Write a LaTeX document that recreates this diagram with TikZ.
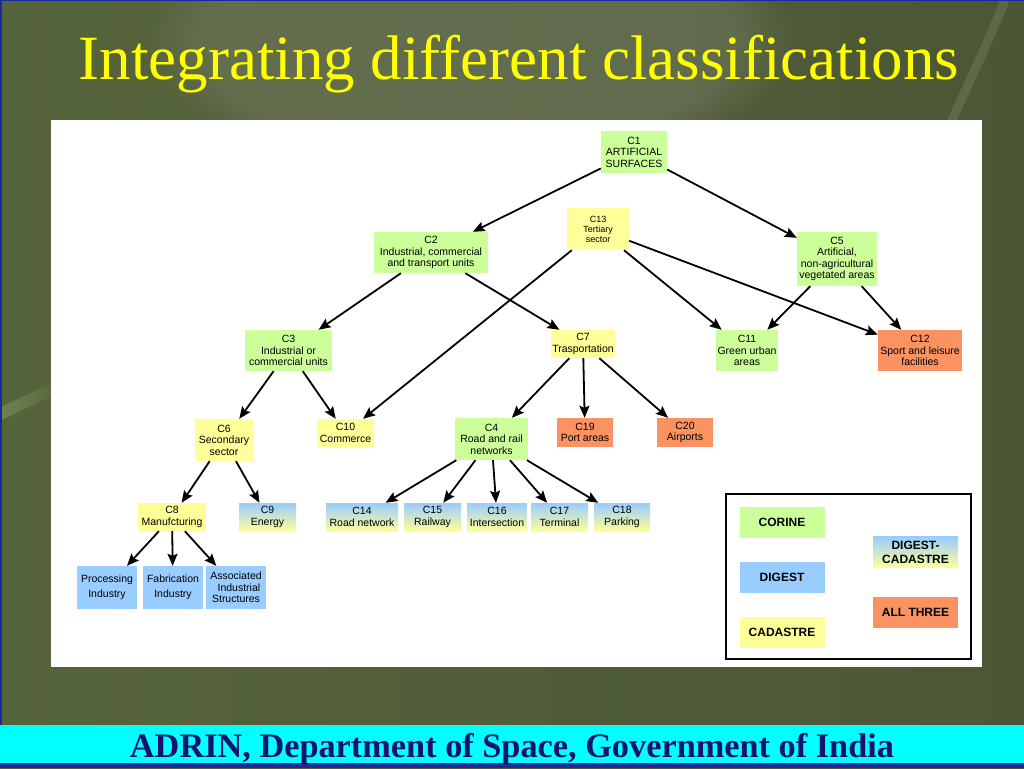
\documentclass[tikz,border=0pt]{standalone}
\usepackage{fontspec}
\setmainfont{Liberation Serif}
\newfontfamily\arialf{Liberation Sans}
\usetikzlibrary{arrows.meta,fadings}
\definecolor{cgreen}{HTML}{CCFF99}
\definecolor{cyellow}{HTML}{FFFF99}
\definecolor{cblue}{HTML}{99CCFF}
\definecolor{corange}{HTML}{FB9262}
\definecolor{bgL}{HTML}{56643B}
\definecolor{bgM}{HTML}{3C4630}
\definecolor{bgR}{HTML}{4B5636}
\definecolor{bglight}{HTML}{737B63}
\definecolor{stem}{HTML}{8A9A62}
\definecolor{titleyellow}{HTML}{FFFF00}
\definecolor{footblue}{HTML}{14146E}
\definecolor{barcyan}{HTML}{00FFFF}
\definecolor{frameblue}{HTML}{1A2A9A}
\tikzset{
  cbox/.style={rectangle, inner sep=0pt, align=center, text=black,
    font=\arialf\fontsize{10.5}{11.5}\selectfont},
  gbox/.style={cbox, fill=cgreen},
  ybox/.style={cbox, fill=cyellow},
  bbox/.style={cbox, fill=cblue},
  obox/.style={cbox, fill=corange},
  dbox/.style={cbox, top color=cblue, bottom color=cyellow},
  legbox/.style={rectangle, inner sep=0pt, align=center, text=black,
    font=\arialf\bfseries\fontsize{12}{14}\selectfont,
    minimum width=85pt, minimum height=31pt},
  arr/.style={-{Stealth[length=12pt,width=10pt,inset=2pt]}, line width=1.8pt, black}
}
\begin{document}
\begin{tikzpicture}[x=1pt,y=-1pt]
\useasboundingbox (0,0) rectangle (1024,768);
% background
\shade[left color=bgL, middle color=bgM, right color=bgR] (0,0) rectangle (1024,768);
\fill[bglight, opacity=0.5, path fading=circle with fuzzy edge 20 percent] (470,40) ellipse [x radius=330pt, y radius=140pt];
\draw[stem, line width=12pt, opacity=0.6, path fading=east] (0,414) -- (60,386);
\draw[stem!80!gray, line width=9pt, opacity=0.3] (1005,0) .. controls (985,50) and (965,90) .. (950,125);
\draw[frameblue, line width=3pt] (0,0) -- (1024,0);
\draw[frameblue, line width=3pt] (0,0) -- (0,768);
% title
\node[font=\fontsize{63}{66}\selectfont, text=titleyellow, anchor=base] (title) at (519,79) {Integrating different classifications};
% white panel
\fill[white] (51,120) rectangle (982,667);
% footer
\fill[barcyan] (0,725) rectangle (1024,763);
\fill[frameblue] (0,763) rectangle (1024,768);
\node[font=\bfseries\fontsize{34.3}{36}\selectfont, text=footblue, anchor=base] (footer) at (512,757) {ADRIN, Department of Space, Government of India};

% nodes
\node[gbox, minimum width=66pt, minimum height=42pt] (c1) at (634,152) {C1\\ARTIFICIAL\\SURFACES};
\node[ybox, minimum width=62pt, minimum height=42pt, font=\arialf\fontsize{9}{10}\selectfont] (c13) at (598,229) {C13\\Tertiary\\sector};
\node[gbox, minimum width=114pt, minimum height=41pt] (c2) at (431,252.5) {C2\\Industrial, commercial\\and transport units};
\node[gbox, minimum width=80pt, minimum height=54pt] (c5) at (837,259) {C5\\Artificial,\\non-agricultural\\vegetated areas};
\node[gbox, minimum width=87pt, minimum height=41pt] (c3) at (288.5,350.5) {C3\\Industrial or\\commercial units};
\node[ybox, minimum width=64pt, minimum height=28pt] (c7) at (583,344) {C7\\Trasportation};
\node[gbox, minimum width=62pt, minimum height=41pt] (c11) at (747,350.5) {C11\\Green urban\\areas};
\node[obox, minimum width=84pt, minimum height=41pt] (c12) at (920,350.5) {C12\\Sport and leisure\\facilities};
\node[ybox, minimum width=58pt, minimum height=42pt] (c6) at (224,440) {C6\\Secondary\\sector};
\node[ybox, minimum width=57pt, minimum height=28pt] (c10) at (345.5,433) {C10\\Commerce};
\node[gbox, minimum width=73pt, minimum height=42pt] (c4) at (491.5,439) {C4\\Road and rail\\networks};
\node[obox, minimum width=56pt, minimum height=29pt] (c19) at (585,432.5) {C19\\Port areas};
\node[obox, minimum width=56pt, minimum height=29pt] (c20) at (685,432.5) {C20\\Airports};
\node[ybox, minimum width=68pt, minimum height=28pt] (c8) at (172,517) {C8\\Manufcturing};
\node[dbox, minimum width=57pt, minimum height=28pt] (c9) at (267.5,517) {C9\\Energy};
\node[dbox, minimum width=72pt, minimum height=28pt] (c14) at (362,517) {C14\\Road network};
\node[dbox, minimum width=57pt, minimum height=28pt] (c15) at (432.5,517) {C15\\Railway};
\node[dbox, minimum width=60pt, minimum height=28pt] (c16) at (497,517) {C16\\Intersection};
\node[dbox, minimum width=57pt, minimum height=28pt] (c17) at (559.5,517) {C17\\Terminal};
\node[dbox, minimum width=56pt, minimum height=28pt] (c18) at (622,517) {C18\\Parking};
\node[bbox, minimum width=60pt, minimum height=43pt, font=\arialf\fontsize{10.5}{15}\selectfont] (proc) at (107,587.5) {Processing\\Industry};
\node[bbox, minimum width=60pt, minimum height=43pt, font=\arialf\fontsize{10.5}{15}\selectfont] (fab) at (173,587.5) {Fabrication\\Industry};
\node[bbox, minimum width=60pt, minimum height=43pt] (assoc) at (236,587.5) {Associated\\\ \ Industrial\\Structures};

% edges
\draw[arr] (c1) -- (c2);
\draw[arr] (c1) -- (c5);
\draw[arr] (c2) -- (c3);
\draw[arr] (c2) -- (c7);
\draw[arr] (c13) -- (c10);
\draw[arr] (c13) -- (c11);
\draw[arr] (c13) -- (c12);
\draw[arr] (c5) -- (c11);
\draw[arr] (c5) -- (c12);
\draw[arr] (c3) -- (c6);
\draw[arr] (c3) -- (c10);
\draw[arr] (c7) -- (c4);
\draw[arr] (c7) -- (c19);
\draw[arr] (c7) -- (c20);
\draw[arr] (c6) -- (c8);
\draw[arr] (c6) -- (c9);
\draw[arr] (c4) -- (c14);
\draw[arr] (c4) -- (c15);
\draw[arr] (c4) -- (c16);
\draw[arr] (c4) -- (c17);
\draw[arr] (c4) -- (c18);
\draw[arr] (c8) -- (proc);
\draw[arr] (c8) -- (fab);
\draw[arr] (c8) -- (assoc);

% legend
\draw[black, line width=2pt, fill=white] (726,494) rectangle (971,659);
\node[legbox, fill=cgreen] (lcorine) at (782,522.5) {CORINE};
\node[legbox, fill=cblue] (ldigest) at (782,577.5) {DIGEST};
\node[legbox, fill=cyellow] (lcad) at (782,632.5) {CADASTRE};
\node[legbox, top color=cblue, bottom color=cyellow, font=\arialf\bfseries\fontsize{12}{14}\selectfont] (ldc) at (915.5,552) {DIGEST-\\CADASTRE};
\node[legbox, fill=corange] (lall) at (915.5,612.5) {ALL THREE};
\end{tikzpicture}
\end{document}
